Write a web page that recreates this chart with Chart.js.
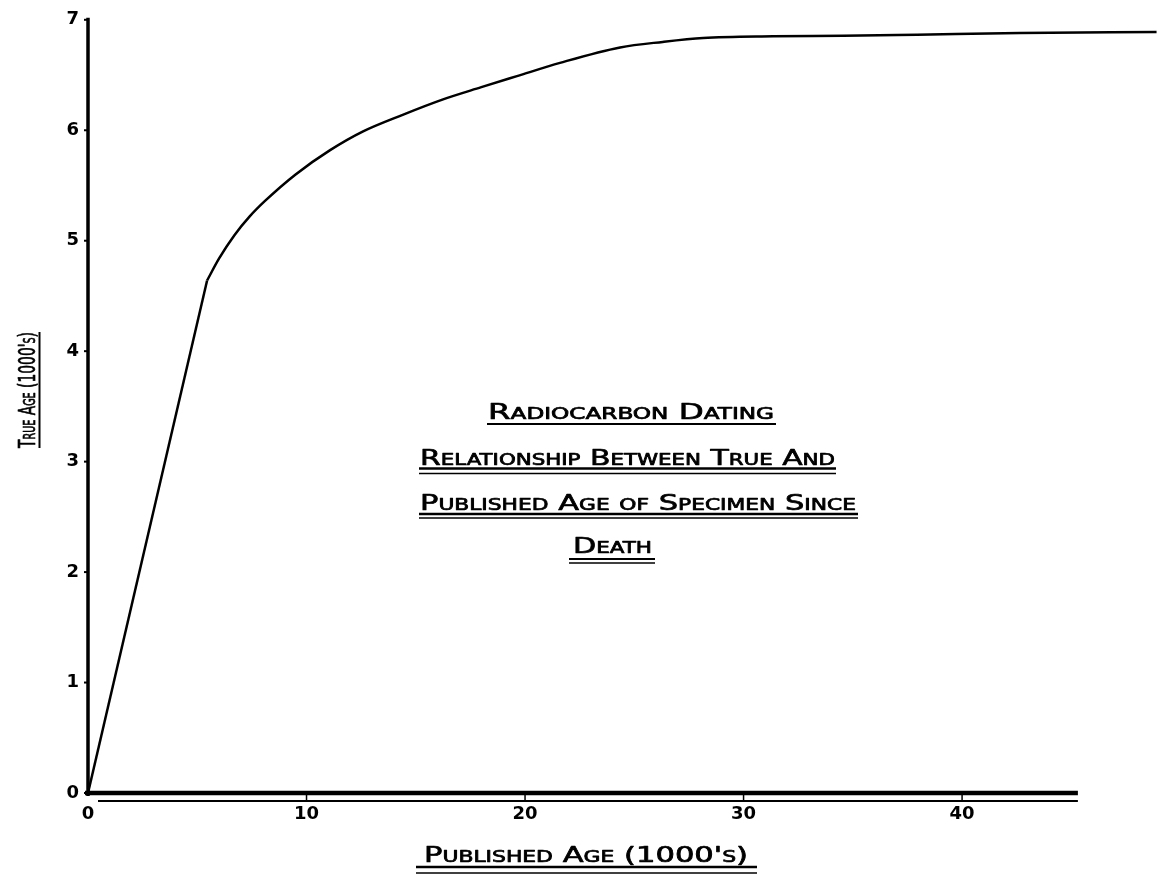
<!DOCTYPE html>
<html><head><meta charset="utf-8">
<script src="https://cdn.jsdelivr.net/npm/chart.js@4.4.1/dist/chart.umd.min.js"></script>
<style>html,body{margin:0;padding:0;background:#fff;overflow:hidden}#wrap{width:1157px;height:875px;position:relative}canvas{display:block}</style>
</head><body><div id="wrap"><canvas id="c" width="1157" height="875"></canvas></div>
<script>
// ---- data ----
const xTickValues = [0, 10, 20, 30, 40];
const yTickValues = [0, 1, 2, 3, 4, 5, 6, 7];
const steepX = [0, 5.45];
const steepY = [0, 4.64];
const curveX = [5.45, 6.0, 6.7, 7.4, 8.1, 9.5, 11.08, 12.59, 14.4, 16.25, 18, 19.63, 21.6, 24.35, 26.3, 28.15, 31.35, 34.55, 37.94, 42.65, 48.9];
const curveY = [4.64, 4.84, 5.05, 5.22, 5.36, 5.6, 5.82, 5.99, 6.14, 6.28, 6.39, 6.49, 6.61, 6.75, 6.80, 6.835, 6.85, 6.855, 6.865, 6.88, 6.89];
const titleLines = ["Radiocarbon Dating", "Relationship Between True And", "Published Age of Specimen Since", "Death"];
const xTitle = "Published Age (1000's)";
const yTitle = "True Age (1000's)";
const xAxisEnd = 45.3;

const toPts = (xs, ys) => xs.map((v, i) => ({x: v, y: ys[i]}));
const FONT = "'DejaVu Sans', sans-serif";

function fitText(ctx, text, left, baseline, width, size) {
  ctx.save();
  ctx.font = "small-caps " + size + "px " + FONT;
  if ('fontVariantCaps' in ctx) ctx.fontVariantCaps = 'small-caps';
  ctx.textAlign = 'left';
  ctx.textBaseline = 'alphabetic';
  const w = ctx.measureText(text).width;
  ctx.translate(left, baseline);
  ctx.scale(width / w, 1);
  ctx.lineWidth = 0.7;
  ctx.lineJoin = 'round';
  ctx.fillText(text, 0, 0);
  ctx.strokeText(text, 0, 0);
  ctx.restore();
}
function hline(ctx, x1, x2, y, lw) {
  ctx.beginPath(); ctx.lineWidth = lw; ctx.moveTo(x1, y); ctx.lineTo(x2, y); ctx.stroke();
}

const deco = {
  id: 'deco',
  afterDatasetsDraw(chart) {
    const {ctx, scales: {x, y}} = chart;
    ctx.save();
    ctx.strokeStyle = '#000'; ctx.fillStyle = '#000'; ctx.lineCap = 'butt';
    const x0 = x.getPixelForValue(0), y0 = y.getPixelForValue(0);
    const xe = x.getPixelForValue(xAxisEnd);
    // y axis
    ctx.beginPath(); ctx.lineWidth = 3.5;
    ctx.moveTo(x0, y0 + 3); ctx.lineTo(x0, y.getPixelForValue(7) - 2); ctx.stroke();
    yTickValues.forEach(v => { const py = y.getPixelForValue(v); hline(ctx, x0 - 4, x0, py, 2); });
    // x axis: thick + thin double line
    hline(ctx, x0 - 3, xe, y0, 4.5);
    hline(ctx, x0 + 10, xe, y0 + 8, 2);
    xTickValues.slice(1).forEach(v => {
      const px = x.getPixelForValue(v);
      ctx.beginPath(); ctx.lineWidth = 1.5; ctx.moveTo(px, y0 + 2); ctx.lineTo(px, y0 + 8); ctx.stroke();
    });
    // centre title block
    fitText(ctx, titleLines[0], 488, 419, 286, 21);
    hline(ctx, 487, 776, 424, 2);
    fitText(ctx, titleLines[1], 420, 465, 415, 21);
    hline(ctx, 419, 836, 468.5, 2.5); hline(ctx, 419, 836, 473.5, 1.5);
    fitText(ctx, titleLines[2], 420, 510, 436, 21);
    hline(ctx, 419, 858, 514, 2.5); hline(ctx, 419, 858, 518, 1.5);
    fitText(ctx, titleLines[3], 573, 553, 79, 21);
    hline(ctx, 569, 655, 559, 2); hline(ctx, 569, 655, 563, 1.5);
    // x axis title
    fitText(ctx, xTitle, 424, 862, 324, 21);
    hline(ctx, 416, 757, 867, 2.5); hline(ctx, 416, 757, 873, 1.5);
    // y axis title (rotated)
    ctx.save();
    ctx.translate(35, 448);
    ctx.rotate(-Math.PI / 2);
    fitText(ctx, yTitle, 0, 0, 116, 23);
    ctx.restore();
    ctx.beginPath(); ctx.lineWidth = 2; ctx.moveTo(39.5, 332); ctx.lineTo(39.5, 448); ctx.stroke();
    ctx.restore();
  }
};

new Chart(document.getElementById('c'), {
  type: 'scatter',
  data: {
    datasets: [
      {data: toPts(steepX, steepY), showLine: true, borderColor: '#000', borderWidth: 2.5, pointRadius: 0, tension: 0},
      {data: toPts(curveX, curveY), showLine: true, borderColor: '#000', borderWidth: 2.5, pointRadius: 0, cubicInterpolationMode: 'monotone'}
    ]
  },
  options: {
    responsive: false,
    devicePixelRatio: 1,
    animation: false,
    layout: {padding: {top: 17, right: 0, left: 0, bottom: 0}},
    plugins: {legend: {display: false}, tooltip: {enabled: false}},
    scales: {
      x: {
        type: 'linear', min: 0, max: 48.92,
        grid: {display: false, drawTicks: false}, border: {display: false},
        afterFit: s => { s.height = 82; },
        afterBuildTicks: s => { s.ticks = xTickValues.map(v => ({value: v})); },
        ticks: {color: '#000', padding: 11, font: {family: FONT, size: 18, weight: 'bold'}}
      },
      y: {
        type: 'linear', min: 0, max: 7,
        grid: {display: false, drawTicks: false}, border: {display: false},
        afterFit: s => { s.width = 88; },
        afterBuildTicks: s => { s.ticks = yTickValues.map(v => ({value: v})); },
        ticks: {color: '#000', padding: 9, font: {family: FONT, size: 18, weight: 'bold'}}
      }
    }
  },
  plugins: [deco]
});
</script></body></html>
